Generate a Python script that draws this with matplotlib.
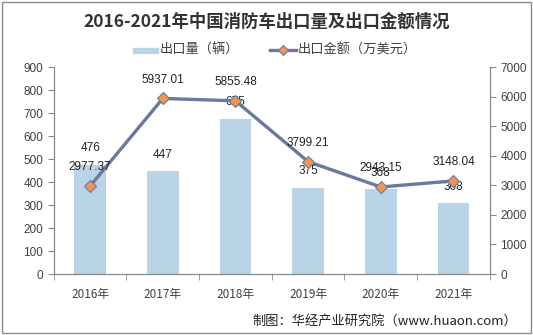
import matplotlib
matplotlib.use("Agg")
import matplotlib.pyplot as plt
import numpy as np

plt.rcParams['font.family'] = ['Noto Sans CJK SC', 'DejaVu Sans']

years = ["2016年", "2017年", "2018年", "2019年", "2020年", "2021年"]
volume = [476, 447, 675, 375, 368, 308]
value = [2977.37, 5937.01, 5855.48, 3799.21, 2943.15, 3148.04]

bar_color = "#b8d4e6"
line_color = "#6b789f"
marker_color = "#f0964e"
txt = "#404040"

fig = plt.figure(figsize=(5.33, 3.35), dpi=100)
ax = fig.add_axes([0.101, 0.182, 0.818, 0.618])
ax2 = ax.twinx()

x = np.arange(len(years))
ax.bar(x, volume, width=0.44, color=bar_color, zorder=1)
ax2.plot(x, value, color=line_color, lw=2.4, marker="D", markersize=6.5,
         markerfacecolor=marker_color, markeredgecolor=line_color,
         markeredgewidth=0.8, zorder=3)

for i, v in enumerate(volume):
    ax.annotate(str(v), (x[i], v), xytext=(0, 12), textcoords="offset points",
                ha="center", va="center", fontsize=8.5, color="#222222",
                family="Liberation Sans")
for i, v in enumerate(value):
    ax2.annotate(f"{v:.2f}", (x[i], v), xytext=(0, 13.5), textcoords="offset points",
                 ha="center", va="center", fontsize=8.5, color="#222222",
                 family="Liberation Sans")

ax.set_xlim(-0.5, 5.5)
ax.set_ylim(0, 900)
ax.set_yticks(range(0, 901, 100))
ax2.set_ylim(0, 7000)
ax2.set_yticks(range(0, 7001, 1000))

ax.set_xticks(x)
ax.set_xticklabels(years)
ax.set_xticks(np.arange(-0.5, 6, 1), minor=True)
ax.tick_params(axis="x", which="major", length=0, pad=10, labelsize=8.5, labelcolor=txt)
ax.tick_params(axis="x", which="minor", length=4, color="#888888")
ax.tick_params(axis="y", length=4, color="#888888", labelsize=8.5, labelcolor=txt)
ax2.tick_params(axis="y", length=4, color="#888888", labelsize=8.5, labelcolor=txt)
for lab in ax.get_yticklabels() + ax2.get_yticklabels():
    lab.set_family("Liberation Sans")

for a in (ax, ax2):
    a.spines["top"].set_visible(False)
    for s in ("left", "right", "bottom"):
        a.spines[s].set_color("#888888")
        a.spines[s].set_linewidth(0.8)
ax2.set_zorder(ax.get_zorder() + 1)
ax.patch.set_visible(False)

fig.text(0.5, 0.935, "2016-2021年中国消防车出口量及出口金额情况", ha="center", va="center",
         fontsize=12.5, fontweight="bold", color="#333333")

# legend drawn manually to match the layout
fig.patches.append(plt.Rectangle((133 / 533, 1 - 53 / 335), 25 / 533, 5 / 335,
                                 transform=fig.transFigure, color=bar_color))
fig.text(160 / 533, 1 - 50 / 335, "出口量（辆）", ha="left", va="center", fontsize=9.5, color=txt)
fig.add_artist(plt.Line2D([270 / 533, 296 / 533], [1 - 50 / 335, 1 - 50 / 335],
                          transform=fig.transFigure, color=line_color, lw=2.4))
fig.add_artist(plt.Line2D([283 / 533], [1 - 50 / 335], transform=fig.transFigure,
                          marker="D", markersize=5.5, markerfacecolor=marker_color,
                          markeredgecolor=line_color, markeredgewidth=0.8))
fig.text(298 / 533, 1 - 50 / 335, "出口金额（万美元）", ha="left", va="center", fontsize=9.5, color=txt)

fig.text(252 / 533, 1 - 321 / 335, "制图：华经产业研究院（www.huaon.com）", ha="left", va="center",
         fontsize=9.5, color="#222222")

fig.patches.append(plt.Rectangle((0.004, 0.006), 0.992, 0.988, transform=fig.transFigure,
                                 fill=False, edgecolor="#8c8c8c", lw=1.0))

fig.savefig("out.png", dpi=100, facecolor="white")
